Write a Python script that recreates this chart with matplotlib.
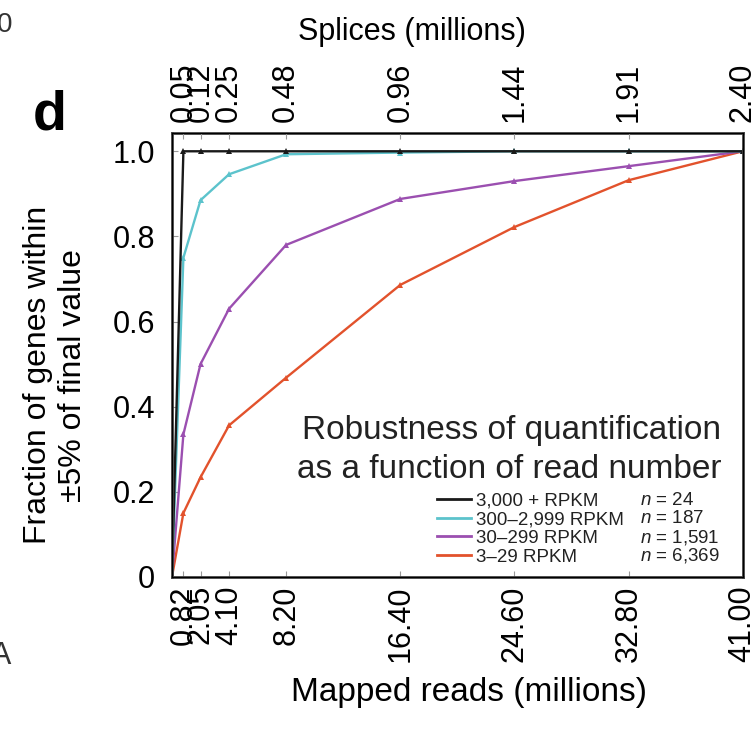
import matplotlib.pyplot as plt
from matplotlib.lines import Line2D

plt.rcParams['font.family'] = ['Liberation Sans', 'DejaVu Sans']
plt.rcParams['mathtext.fontset'] = 'custom'
plt.rcParams['mathtext.it'] = 'Liberation Sans:italic'

# mapped reads (millions) and matching splices (millions)
reads = [0, 0.82, 2.05, 4.10, 8.20, 16.40, 24.60, 32.80, 41.00]
tick_reads = [0.82, 2.05, 4.10, 8.20, 16.40, 24.60, 32.80, 41.00]
tick_read_labels = ['0.82', '2.05', '4.10', '8.20', '16.40', '24.60', '32.80', '41.00']
tick_splice_labels = ['0.05', '0.12', '0.25', '0.48', '0.96', '1.44', '1.91', '2.40']

# fraction of genes within 5% of final value
frac_high = [0, 1.0, 1.0, 1.0, 1.0, 1.0, 1.0, 1.0, 1.0]
frac_midhigh = [0, 0.75, 0.885, 0.946, 0.993, 0.997, 1.0, 1.0, 1.0]
frac_mid = [0, 0.335, 0.50, 0.63, 0.78, 0.888, 0.93, 0.965, 1.0]
frac_low = [0, 0.15, 0.234, 0.356, 0.468, 0.686, 0.822, 0.932, 1.0]

labels = ['3,000 + RPKM', '300\u20132,999 RPKM', '30\u2013299 RPKM', '3\u201329 RPKM']
counts = ['24', '187', '1,591', '6,369']
colors = ['#1a1a1a', '#5cc3cc', '#9b4fb0', '#e2522c']
series = [frac_high, frac_midhigh, frac_mid, frac_low]

fig = plt.figure(figsize=(7.51, 7.33), dpi=100)
ax = fig.add_axes([0.229, 0.213, 0.760, 0.605])

# draw lowest-expression first so black ends up on top
for ys, c in reversed(list(zip(series, colors))):
    ax.plot(reads, ys, color=c, linewidth=1.7, marker='^', markersize=5,
            markeredgewidth=0)

ax.set_xlim(0, 41)
ax.set_ylim(0, 1.042)
ax.set_xticks(tick_reads)
ax.set_xticklabels(tick_read_labels, rotation=90, fontsize=22)
ax.set_yticks([0, 0.2, 0.4, 0.6, 0.8, 1.0])
ax.set_yticklabels(['0', '0.2', '0.4', '0.6', '0.8', '1.0'], fontsize=22)
ax.tick_params(axis='x', direction='in', length=4, color='#999999', pad=6)
ax.tick_params(axis='y', direction='in', length=4, color='#999999', pad=12)
ax.set_xlabel('Mapped reads (millions)', fontsize=24)
ax.xaxis.set_label_coords(0.52, -0.225)
ax.set_ylabel('Fraction of genes within\n\u00b15% of final value', fontsize=23,
              linespacing=1.2)
ax.yaxis.set_label_coords(-0.147, 0.455)
for sp in ax.spines.values():
    sp.set_color('#444444')
    sp.set_linewidth(2)

top = ax.twiny()
top.set_xlim(ax.get_xlim())
top.set_xticks(tick_reads)
top.set_xticklabels(tick_splice_labels, rotation=90, fontsize=22)
top.tick_params(direction='in', length=4, color='#999999', pad=8)
top.set_xlabel('Splices (millions)', fontsize=22)
top.xaxis.set_label_coords(0.42, 1.21)

ax.text(0.962, 0.286, 'Robustness of quantification\nas a function of read number',
        transform=ax.transAxes, ha='right', va='center', fontsize=24,
        linespacing=1.3, color='#222222')

handles = [Line2D([], [], color=c, linewidth=2) for c in colors]
leg = ax.legend(handles, labels, loc='upper left', bbox_to_anchor=(0.464, 0.19),
                frameon=False, fontsize=13.5, handlelength=1.8, handletextpad=0.3,
                labelspacing=0.08, borderpad=0, borderaxespad=0)
for t in leg.get_texts():
    t.set_color('#222222')
row_y = [0.173, 0.131, 0.089, 0.048]
for y, n in zip(row_y, counts):
    ax.text(0.82, y, '$n$ = ' + n, transform=ax.transAxes, fontsize=13.5,
            va='center', ha='left', color='#222222')

fig.text(0.066, 0.843, 'd', fontsize=40, fontweight='bold', ha='center', va='center')
fig.text(-0.004, 0.966, '0', fontsize=20, ha='left', va='center', color='#333333')
fig.text(-0.012, 0.105, 'A', fontsize=22, ha='left', va='center', color='#333333')

fig.savefig('out.png', dpi=100)
